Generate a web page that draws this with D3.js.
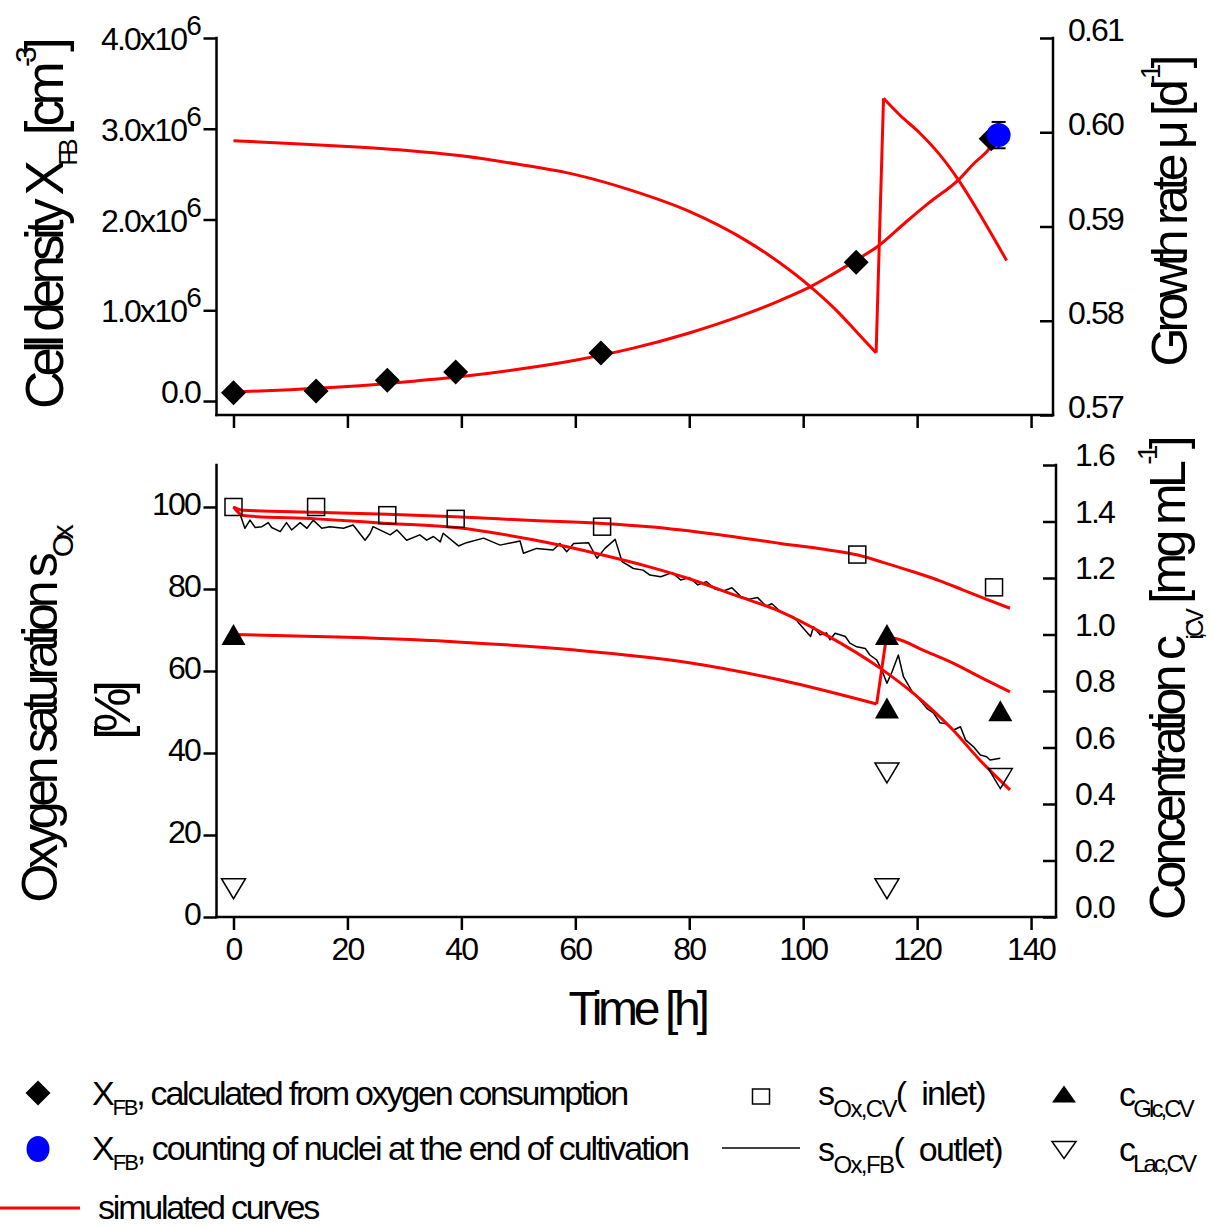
<!DOCTYPE html>
<html><head><meta charset="utf-8">
<script src="https://cdn.jsdelivr.net/npm/d3@7"></script>
<style>
html,body{margin:0;padding:0;background:#fff;}
svg{display:block;}
text{font-family:"Liberation Sans", Arial, sans-serif; fill:#000; white-space:pre;}
</style></head><body>
<svg id="chart" width="1212" height="1228"></svg>
<script>
// ---------------- DATA ----------------
// Top panel: cell density calculated from oxygen consumption
const xfbTime = [0, 14.5, 27, 39, 64.5, 109.3, 133];
const xfbValue = [0.09e6, 0.11e6, 0.23e6, 0.32e6, 0.53e6, 1.53e6, 2.89e6];
// counting of nuclei at end of cultivation
const nucleiTime = [134.3];
const nucleiValue = [2.93e6];
const nucleiErr = [0.145e6];
// simulated cell density
const simXTime = [0, 10, 20, 30, 40, 50, 60, 70, 80, 90, 96, 101.3, 105, 110, 113, 118, 122, 127.3, 130, 132.9, 134];
const simXValue = [0.10e6, 0.125e6, 0.16e6, 0.21e6, 0.27e6, 0.35e6, 0.45e6, 0.58e6, 0.75e6, 0.96e6, 1.11e6, 1.26e6, 1.39e6, 1.58e6, 1.70e6, 1.97e6, 2.18e6, 2.44e6, 2.62e6, 2.80e6, 2.92e6];
// simulated growth rate (right axis), two segments around medium exchange
const simMuTime = [0, 10, 20, 30, 40, 50, 60, 70, 80, 90, 96, 101.3, 106, 110, 112.8, 114.1, 117, 120.5, 124, 127.3, 131.6, 135.7];
const simMuValue = [0.5991, 0.5988, 0.5985, 0.5981, 0.5975, 0.5966, 0.5955, 0.5938, 0.5916, 0.5885, 0.5861, 0.5836, 0.5810, 0.5784, 0.5766, 0.6036, 0.6018, 0.5999, 0.5976, 0.5949, 0.5907, 0.5864];

// Bottom panel
const inletTime = [0, 14.5, 27, 39, 64.7, 109.5, 133.5];
const inletSat = [100, 100, 98.0, 97.1, 95.2, 88.4, 80.4];
const glcTime = [0, 114.7, 114.7, 134.6];
const glcConc = [1.0, 1.0, 0.74, 0.73];
const lacTime = [0, 114.7, 114.7, 134.6];
const lacConc = [0.10, 0.51, 0.10, 0.49];
const outletTime = [0, 1.1, 2.0, 2.9, 3.8, 5.0, 6.1, 6.7, 8.2, 9.3, 10.2, 11.7, 12.9, 14.0, 15.5, 16.9, 19.3, 21.0, 23.1, 24.0, 24.5, 27.5, 28.7, 30.4, 32.7, 33.9, 35.1, 36.3, 36.8, 39.5, 40.9, 43.9, 46.8, 50.3, 50.9, 53.2, 56.1, 57.3, 58.5, 59.7, 62.3, 63.8, 65.2, 67.0, 68.2, 70.2, 71.9, 73.1, 75, 77, 78.5, 80, 81.5, 83, 84.5, 86, 87.5, 89, 90.5, 92, 93.5, 94.5, 96.0, 97.1, 98.3, 99.8, 101.3, 101.8, 103.0, 104.1, 104.7, 105.6, 107.4, 108.2, 109.4, 110.9, 111.7, 112.9, 113.8, 114.7, 115.6, 116.7, 117.6, 119.1, 120.5, 121.7, 122.9, 124.0, 125.2, 126.4, 127.6, 128.5, 129.9, 131.1, 132.2, 132.8, 134.6];
const outletSat = [100.1, 98.5, 94.8, 96.8, 95.0, 95.2, 96.2, 95.0, 94.0, 96.2, 94.4, 96.2, 94.8, 96.8, 94.8, 95.2, 94.8, 95.6, 91.9, 93.6, 95.2, 93.2, 94.4, 91.9, 93.2, 91.9, 92.8, 91.5, 93.6, 90.5, 91.3, 92.4, 90.7, 91.7, 88.7, 89.9, 89.5, 91.1, 89.1, 91.1, 91.3, 87.5, 89.9, 92.1, 86.7, 85.0, 84.6, 83.4, 83.0, 84.0, 82.2, 82.8, 81.0, 81.8, 80.0, 79.5, 80.3, 78.2, 77.5, 77.9, 75.8, 76.4, 74.5, 73.7, 73.2, 70.8, 68.4, 70.8, 68.8, 69.3, 67.6, 69.2, 68.4, 66.8, 65.9, 65.5, 63.9, 62.7, 60.2, 57.0, 59.8, 63.9, 58.6, 55.0, 52.9, 50.9, 49.7, 47.4, 47.1, 45.6, 46.4, 43.2, 41.5, 39.5, 39.1, 38.3, 38.7];
const simInletTime = [0, 1.7, 14.5, 27, 39, 52.6, 64.8, 73, 85, 96, 103, 109.6, 114, 119.3, 124, 128, 132, 136.3];
const simInletSat = [100, 99.2, 98.7, 98.2, 97.6, 96.7, 96.0, 95.2, 93.3, 91.1, 89.8, 88.3, 86.5, 84.2, 82.0, 79.8, 77.6, 75.3];
const simOutletTime = [0, 1.7, 14.5, 27, 39, 52.6, 64.8, 73, 80, 88, 96, 104, 113.5, 119.3, 126.3, 131, 136.3];
const simOutletSat = [100, 97.9, 97.1, 96.0, 95.0, 92.0, 88.3, 85.4, 82.5, 78.5, 74.5, 68.8, 60.7, 54.6, 45.6, 38.3, 31.0];
const simGlcTime = [0, 20, 40, 60, 80, 96, 112.9, 114.6, 116.4, 121, 126.4, 131, 136.3];
const simGlcConc = [1.0, 0.99, 0.973, 0.945, 0.90, 0.839, 0.754, 0.99, 0.985, 0.945, 0.898, 0.85, 0.797];

// Ticks
const timeTicks = [0, 20, 40, 60, 80, 100, 120, 140];
const timeMinor = [10, 30, 50, 70, 90, 110, 130];
const cellTicks = [0, 1e6, 2e6, 3e6, 4e6];
const cellTickLabels = ["0.0", "1.0x10^6", "2.0x10^6", "3.0x10^6", "4.0x10^6"];
const cellMinor = [0.5e6, 1.5e6, 2.5e6, 3.5e6];
const muTicks = [0.57, 0.58, 0.59, 0.60, 0.61];
const muTickLabels = ["0.57", "0.58", "0.59", "0.60", "0.61"];
const muMinor = [0.575, 0.585, 0.595, 0.605];
const satTicks = [0, 20, 40, 60, 80, 100];
const satMinor = [10, 30, 50, 70, 90, 110];
const concTicks = [0, 0.2, 0.4, 0.6, 0.8, 1.0, 1.2, 1.4, 1.6];
const concTickLabels = ["0.0", "0.2", "0.4", "0.6", "0.8", "1.0", "1.2", "1.4", "1.6"];
const concMinor = [0.1, 0.3, 0.5, 0.7, 0.9, 1.1, 1.3, 1.5];

// ---------------- LAYOUT ----------------
const svg = d3.select("#chart");
const RED = "#ff0000";
const L = 216.5, Rtop = 1053, Rbot = 1056;
const topY0 = 38, topY1 = 415, botY0 = 465, botY1 = 917;

const x = d3.scaleLinear().domain([-3.07, 144.2]).range([216, 1055]);
const yCell = d3.scaleLinear().domain([-0.154e6, 4e6]).range([topY1, topY0]);
const yMu = d3.scaleLinear().domain([0.57, 0.61]).range([topY1, topY0]);
const ySat = d3.scaleLinear().domain([0, 110.24]).range([botY1, botY0]);
const yConc = d3.scaleLinear().domain([0, 1.6]).range([botY1, botY0]);

function vAxis(xPos, scale, majors, minors, y0, y1) {
  const g = svg.append("g").attr("transform", `translate(${xPos},0)`);
  g.call(d3.axisLeft(scale).tickValues(minors).tickSize(7).tickFormat("")).select(".domain").remove();
  g.call(d3.axisLeft(scale).tickValues(majors).tickSize(13).tickFormat("")).select(".domain").remove();
  g.selectAll(".tick line").attr("stroke", "#000").attr("stroke-width", 2.5);
  svg.append("line").attr("x1", xPos).attr("x2", xPos).attr("y1", y0).attr("y2", y1)
    .attr("stroke", "#000").attr("stroke-width", 2.5).attr("stroke-linecap", "square");
}
function hAxis(yPos, x0, x1) {
  const g = svg.append("g").attr("transform", `translate(0,${yPos})`);
  g.call(d3.axisBottom(x).tickValues(timeMinor).tickSize(7).tickFormat("")).select(".domain").remove();
  g.call(d3.axisBottom(x).tickValues(timeTicks).tickSize(13).tickFormat("")).select(".domain").remove();
  g.selectAll(".tick line").attr("stroke", "#000").attr("stroke-width", 2.5);
  svg.append("line").attr("x1", x0).attr("x2", x1).attr("y1", yPos).attr("y2", yPos)
    .attr("stroke", "#000").attr("stroke-width", 2.5).attr("stroke-linecap", "square");
}

// Rich text helper (sub/superscripts), with letter-spacing fitted to a target width
function rich(parent, parts, o) {
  const t = parent.append("text").attr("text-anchor", o.anchor || "start").style("font-size", o.size + "px");
  if (o.rotate) t.attr("transform", `translate(${o.x},${o.y}) rotate(${o.rotate})`);
  else t.attr("x", o.x).attr("y", o.y);
  let cur = 0;
  parts.forEach(([s, k]) => {
    const target = k === "sub" ? o.subDy : k === "sup" ? o.supDy : 0;
    const ts = t.append("tspan").text(s).attr("dy", target - cur);
    if (k === "sub") ts.style("font-size", (o.subSize || 24) + "px");
    if (k === "sup") ts.style("font-size", (o.supSize || 26) + "px");
    cur = target;
  });
  if (o.target) {
    const n = parts.reduce((a, p) => a + p[0].length, 0);
    const len = t.node().getComputedTextLength();
    t.style("letter-spacing", ((o.target - len) / n) + "px");
  }
  return t;
}

// ---------- axes ----------
vAxis(L, yCell, cellTicks, cellMinor, topY0, topY1);
vAxis(Rtop, yMu, muTicks, muMinor, topY0, topY1);
hAxis(topY1, L, Rtop);
vAxis(L, ySat, satTicks, satMinor, botY0, botY1);
vAxis(Rbot, yConc, concTicks, concMinor, botY0, botY1);
hAxis(botY1, L, Rbot);

const tickStyle = t => t.style("font-size", "32px").style("letter-spacing", "-1.8px");
cellTicks.forEach((v, i) => {
  const [a, b] = cellTickLabels[i].split("^");
  const t = tickStyle(svg.append("text").attr("x", 200).attr("text-anchor", "end"));
  t.attr("y", yCell(v) + (b ? 12 : 2));
  t.append("tspan").text(a);
  if (b) t.append("tspan").attr("dy", -15).style("font-size", "28px").text(b);
});
muTicks.forEach((v, i) => {
  tickStyle(svg.append("text").attr("x", 1068).attr("y", yMu(v) + 3).text(muTickLabels[i]));
});
satTicks.forEach(v => {
  tickStyle(svg.append("text").attr("x", 200).attr("y", ySat(v) + 8).attr("text-anchor", "end").text(v));
});
concTicks.forEach((v, i) => {
  tickStyle(svg.append("text").attr("x", 1075).attr("y", yConc(v) + 1).text(concTickLabels[i]));
});
timeTicks.forEach(v => {
  tickStyle(svg.append("text").attr("x", x(v)).attr("y", 960).attr("text-anchor", "middle").text(v));
});

// ---------- titles ----------
rich(svg, [["Cell density X", "n"], ["FB", "sub"], [" [cm", "n"], ["-3", "sup"], ["]", "n"]],
  { x: 63, y: 226, rotate: -90, anchor: "middle", size: 53, subSize: 26, subDy: 14, supSize: 30, supDy: -27, target: 366 });
rich(svg, [["Growth rate μ [d", "n"], ["-1", "sup"], ["]", "n"]],
  { x: 1187, y: 213, rotate: -90, anchor: "middle", size: 50, supSize: 28, supDy: -27, target: 307 });
rich(svg, [["Oxygen saturation s", "n"], ["Ox", "sub"]],
  { x: 57, y: 716, rotate: -90, anchor: "middle", size: 50, subSize: 30, subDy: 16, target: 373 });
rich(svg, [["[%]", "n"]], { x: 130, y: 713, rotate: -90, anchor: "middle", size: 50, target: 53 });
rich(svg, [["Concentration c", "n"], ["i,CV", "sub"], [" [mg mL", "n"], ["-1", "sup"], ["]", "n"]],
  { x: 1185, y: 680, rotate: -90, anchor: "middle", size: 50, subSize: 24, subDy: 18, supSize: 28, supDy: -28, target: 480 });
rich(svg, [["Time [h]", "n"]], { x: 637, y: 1025, anchor: "middle", size: 48, target: 137 });

// ---------- marks helpers ----------
const diamondPath = (cx, cy, r) => `M${cx},${cy - r}L${cx + r},${cy}L${cx},${cy + r}L${cx - r},${cy}Z`;
const triUp = (cx, cy, w, h) => `M${cx},${cy - h / 2}L${cx + w / 2},${cy + h / 2}L${cx - w / 2},${cy + h / 2}Z`;
const triDown = (cx, cy, w, h) => `M${cx},${cy + h / 2}L${cx + w / 2},${cy - h / 2}L${cx - w / 2},${cy - h / 2}Z`;
const smooth = d3.curveMonotoneX;

// draws a simulated curve: smooth pieces, with straight segment at the medium-exchange jump (if any)
function simCurve(times, vals, yScale, hasJump) {
  const pts = d3.zip(times, vals);
  const smoothLine = d3.line().x(d => x(d[0])).y(d => yScale(d[1])).curve(smooth);
  const straight = d3.line().x(d => x(d[0])).y(d => yScale(d[1]));
  let pieces = [pts], jump = null;
  if (hasJump) {
    let k = 0, best = -1;
    for (let i = 0; i < pts.length - 1; i++) {
      const dv = Math.abs(yScale(pts[i + 1][1]) - yScale(pts[i][1]));
      if (dv > best) { best = dv; k = i; }
    }
    pieces = [pts.slice(0, k + 1), pts.slice(k + 1)];
    jump = [pts[k], pts[k + 1]];
  }
  const g = svg.append("g").attr("fill", "none").attr("stroke", RED).attr("stroke-width", 3).attr("stroke-linejoin", "round");
  pieces.forEach(p => g.append("path").datum(p).attr("d", smoothLine));
  if (jump) g.append("path").datum(jump).attr("d", straight);
}

// ---------- top panel ----------
simCurve(simMuTime, simMuValue, yMu, true);
simCurve(simXTime, simXValue, yCell, false);
svg.selectAll(".xfb").data(d3.zip(xfbTime, xfbValue)).join("path")
  .attr("d", d => diamondPath(x(d[0]), yCell(d[1]), 12.5)).attr("fill", "#000");
d3.zip(nucleiTime, nucleiValue, nucleiErr).forEach(([t, v, e]) => {
  const cx = x(t);
  svg.append("line").attr("x1", cx).attr("x2", cx).attr("y1", yCell(v + e)).attr("y2", yCell(v - e)).attr("stroke", "#000").attr("stroke-width", 2);
  [v + e, v - e].forEach(w => svg.append("line").attr("x1", cx - 7).attr("x2", cx + 7).attr("y1", yCell(w)).attr("y2", yCell(w)).attr("stroke", "#000").attr("stroke-width", 2));
  svg.append("circle").attr("cx", cx).attr("cy", yCell(v)).attr("r", 12).attr("fill", "#0000ff");
});

// ---------- bottom panel ----------
const lineSat = d3.line().x(d => x(d[0])).y(d => ySat(d[1]));
svg.append("path").datum(d3.zip(outletTime, outletSat)).attr("d", lineSat)
  .attr("fill", "none").attr("stroke", "#000").attr("stroke-width", 1.5).attr("stroke-linejoin", "round");
simCurve(simInletTime, simInletSat, ySat, false);
simCurve(simOutletTime, simOutletSat, ySat, false);
simCurve(simGlcTime, simGlcConc, yConc, true);
svg.selectAll(".inlet").data(d3.zip(inletTime, inletSat)).join("rect")
  .attr("x", d => x(d[0]) - 8.5).attr("y", d => ySat(d[1]) - 8.5).attr("width", 17).attr("height", 17)
  .attr("fill", "none").attr("stroke", "#000").attr("stroke-width", 1.5);
svg.selectAll(".glc").data(d3.zip(glcTime, glcConc)).join("path")
  .attr("d", d => triUp(x(d[0]), yConc(d[1]), 24, 21)).attr("fill", "#000");
svg.selectAll(".lac").data(d3.zip(lacTime, lacConc)).join("path")
  .attr("d", d => triDown(x(d[0]), yConc(d[1]), 24, 20)).attr("fill", "none").attr("stroke", "#000").attr("stroke-width", 1.5);

// ---------- legend ----------
const lg = svg.append("g");
lg.append("path").attr("d", diamondPath(38, 1093, 12.5)).attr("fill", "#000");
rich(lg, [["X", "n"], ["FB", "sub"], [", calculated from oxygen consumption", "n"]],
  { x: 92, y: 1105, size: 34, subSize: 22, subDy: 10, target: 535 });
lg.append("ellipse").attr("cx", 38).attr("cy", 1149).attr("rx", 11.5).attr("ry", 13).attr("fill", "#0000ff");
rich(lg, [["X", "n"], ["FB", "sub"], [", counting of nuclei at the end of cultivation", "n"]],
  { x: 92, y: 1160, size: 34, subSize: 22, subDy: 10, target: 596 });
lg.append("line").attr("x1", 0).attr("x2", 80).attr("y1", 1208).attr("y2", 1208).attr("stroke", RED).attr("stroke-width", 3);
rich(lg, [["simulated curves", "n"]], { x: 98, y: 1219, size: 34, target: 220 });

lg.append("rect").attr("x", 752.5).attr("y", 1089).attr("width", 17).attr("height", 15)
  .attr("fill", "none").attr("stroke", "#000").attr("stroke-width", 1.5);
rich(lg, [["s", "n"], ["Ox,CV", "sub"], ["(  inlet)", "n"]],
  { x: 818, y: 1105, size: 34, subSize: 24, subDy: 12, target: 167 });
lg.append("line").attr("x1", 722).attr("x2", 800).attr("y1", 1148).attr("y2", 1148).attr("stroke", "#000").attr("stroke-width", 1.5);
rich(lg, [["s", "n"], ["Ox,FB", "sub"], ["(  outlet)", "n"]],
  { x: 818, y: 1161, size: 34, subSize: 24, subDy: 12, target: 184 });
lg.append("path").attr("d", triUp(1064, 1094, 24, 17)).attr("fill", "#000");
rich(lg, [["c", "n"], ["Glc,CV", "sub"]], { x: 1119, y: 1106, size: 34, subSize: 24, subDy: 11, target: 73 });
lg.append("path").attr("d", triDown(1064, 1150, 24, 17)).attr("fill", "none").attr("stroke", "#000").attr("stroke-width", 1.5);
rich(lg, [["c", "n"], ["Lac,CV", "sub"]], { x: 1119, y: 1161, size: 34, subSize: 24, subDy: 11, target: 75 });
</script>
</body></html>
